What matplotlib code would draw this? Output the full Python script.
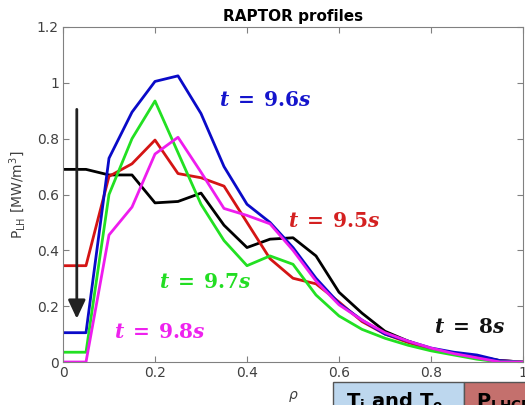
import matplotlib
matplotlib.use("Agg")
import matplotlib.pyplot as plt
from matplotlib.patches import Rectangle

# radial grid and LH power density profiles
rho = [0.0, 0.05, 0.1, 0.15, 0.2, 0.25, 0.3, 0.35, 0.4, 0.45, 0.5,
       0.55, 0.6, 0.65, 0.7, 0.75, 0.8, 0.85, 0.9, 0.95, 1.0]
p_t80 = [0.69, 0.69, 0.67, 0.67, 0.57, 0.575, 0.605, 0.49, 0.41, 0.44, 0.445,
         0.38, 0.25, 0.175, 0.11, 0.075, 0.045, 0.03, 0.02, 0.005, 0.0]
p_t95 = [0.345, 0.345, 0.665, 0.71, 0.795, 0.675, 0.66, 0.63, 0.50, 0.37, 0.30,
         0.28, 0.215, 0.145, 0.10, 0.07, 0.045, 0.03, 0.015, 0.005, 0.0]
p_t96 = [0.105, 0.105, 0.73, 0.895, 1.005, 1.025, 0.89, 0.70, 0.565, 0.50, 0.41,
         0.30, 0.21, 0.15, 0.10, 0.075, 0.05, 0.035, 0.025, 0.005, 0.0]
p_t97 = [0.035, 0.035, 0.60, 0.80, 0.935, 0.75, 0.565, 0.435, 0.345, 0.38, 0.35,
         0.24, 0.165, 0.117, 0.085, 0.06, 0.04, 0.025, 0.01, 0.0, 0.0]
p_t98 = [0.0, 0.0, 0.455, 0.555, 0.745, 0.805, 0.68, 0.55, 0.525, 0.495, 0.40,
         0.29, 0.205, 0.15, 0.105, 0.075, 0.05, 0.03, 0.015, 0.0, 0.0]

xticks = [0, 0.2, 0.4, 0.6, 0.8, 1]
xtick_labels = ["0", "0.2", "0.4", "0.6", "0.8", "1"]
yticks = [0, 0.2, 0.4, 0.6, 0.8, 1, 1.2]
ytick_labels = ["0", "0.2", "0.4", "0.6", "0.8", "1", "1.2"]

fig = plt.figure(figsize=(5.25, 4.05), dpi=100)
ax = fig.add_axes([63 / 525, 43 / 405, 460 / 525, 335 / 405])

ax.plot(rho, p_t80, color="black", lw=2)
ax.plot(rho, p_t95, color="#d41414", lw=2)
ax.plot(rho, p_t96, color="#0a0ac8", lw=2)
ax.plot(rho, p_t97, color="#22e022", lw=2)
ax.plot(rho, p_t98, color="#ee1cee", lw=2)

ax.set_xlim(0, 1)
ax.set_ylim(0, 1.2)
ax.set_xticks(xticks)
ax.set_xticklabels(xtick_labels)
ax.set_yticks(yticks)
ax.set_yticklabels(ytick_labels)
ax.tick_params(direction="in", top=True, right=True, length=4, width=0.8,
               colors="#808080", labelcolor="#404040", labelsize=10, pad=3)
for s in ax.spines.values():
    s.set_color("#808080")
    s.set_linewidth(0.8)

ax.set_title("RAPTOR profiles", fontsize=11, fontweight="bold", pad=4)
ax.set_ylabel(r"P$_{\rm LH}$ [MW/m$^3$]", fontsize=10, color="#404040",
              labelpad=6)

# arrow showing the time evolution
ax.annotate("", xy=(0.03, 0.155), xytext=(0.03, 0.905),
            arrowprops=dict(arrowstyle="-|>,head_length=0.75,head_width=0.35",
                            lw=2, color="#222222", mutation_scale=15,
                            shrinkA=0, shrinkB=0))

lab = dict(fontsize=14.5, math_fontfamily="dejavuserif", ha="center", va="center")
ax.text(0.44, 0.935, r"$\mathbfit{t}\;\mathbf{=}\;\mathbf{9.6}\mathbfit{s}$", color="#1414cc", **lab)
ax.text(0.59, 0.505, r"$\mathbfit{t}\;\mathbf{=}\;\mathbf{9.5}\mathbfit{s}$", color="#d42020", **lab)
ax.text(0.31, 0.286, r"$\mathbfit{t}\;\mathbf{=}\;\mathbf{9.7}\mathbfit{s}$", color="#22dd22", **lab)
ax.text(0.21, 0.104, r"$\mathbfit{t}\;\mathbf{=}\;\mathbf{9.8}\mathbfit{s}$", color="#ee22ee", **lab)
ax.text(0.885, 0.125, r"$\mathbfit{t}\;\mathbf{=}\;\mathbf{8}\mathbfit{s}$", color="#111111", **lab)

fig.text(293 / 525, 8 / 405, r"$\rho$", ha="center", va="center",
         fontsize=10, color="#404040")

# cropped slide boxes at the bottom
fig.patches.append(Rectangle((333 / 525, -0.01), 131 / 525, 23 / 405 + 0.01,
                             transform=fig.transFigure, facecolor="#bdd7ee",
                             edgecolor="#555555", lw=1))
fig.patches.append(Rectangle((464 / 525, -0.01), 70 / 525, 23 / 405 + 0.01,
                             transform=fig.transFigure, facecolor="#c4706d",
                             edgecolor="#555555", lw=1))
fig.text(346 / 525, -3 / 405, r"T$_{\bf i}$ and T$_{\bf e}$", fontsize=14,
         fontweight="bold", va="baseline")
fig.text(476 / 525, -3 / 405, r"P$_{\bf LHCD}$", fontsize=14,
         fontweight="bold", va="baseline")

fig.savefig("out.png", dpi=100)
